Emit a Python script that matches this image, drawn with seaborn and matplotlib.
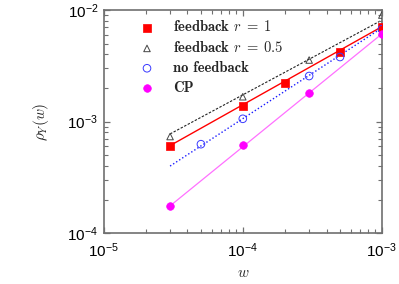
import numpy as np
import pandas as pd
import matplotlib
matplotlib.use("Agg")
import matplotlib.pyplot as plt
import seaborn as sns

# ---- data ----
fb1_w = [3e-5, 1e-4, 2e-4, 5e-4, 1e-3]
fb1_rho = [6.1e-4, 1.38e-3, 2.23e-3, 4.23e-3, 7.08e-3]

fb05_w = [3e-5, 1e-4, 3e-4, 1e-3]
fb05_rho = [7.35e-4, 1.67e-3, 3.56e-3, 9.0e-3]

nofb_w = [5e-5, 1e-4, 3e-4, 5e-4, 1e-3]
nofb_rho = [6.28e-4, 1.06e-3, 2.56e-3, 3.79e-3, 6.72e-3]

cp_w = [3e-5, 1e-4, 3e-4, 1e-3]
cp_rho = [1.76e-4, 6.15e-4, 1.82e-3, 6.1e-3]

# fitted guide lines (end points)
fit_w = [3e-5, 1e-3]
fit_fb1 = [6.1e-4, 7.08e-3]
fit_fb05 = [7.76e-4, 8.1e-3]
fit_nofb = [4.0e-4, 6.9e-3]
fit_cp = [1.76e-4, 6.1e-3]

labels = [r"feedback $r\;=\;1$", r"feedback $r\;=\;0.5$", "no feedback", "CP"]

frame_col = "#707070"

sns.set_theme(style="white")
plt.rcParams.update({
    "mathtext.fontset": "cm",
    "font.family": ["Liberation Sans", "DejaVu Sans"],
    "axes.axisbelow": False,
    "xtick.direction": "in", "ytick.direction": "in",
    "xtick.top": True, "xtick.bottom": True,
    "ytick.left": True, "ytick.right": True,
    "xtick.major.size": 4.5, "ytick.major.size": 4.5,
    "xtick.minor.size": 2.6, "ytick.minor.size": 2.6,
    "xtick.major.width": 0.9, "ytick.major.width": 0.9,
    "xtick.minor.width": 0.8, "ytick.minor.width": 0.8,
    "xtick.color": frame_col, "ytick.color": frame_col,
    "xtick.labelcolor": "black", "ytick.labelcolor": "black",
    "xtick.labelsize": 11, "ytick.labelsize": 11,
    "xtick.major.pad": 6, "ytick.major.pad": 4,
})

fig = plt.figure(figsize=(3.99, 2.84), dpi=100)
ax = fig.add_axes([0.26, 0.1785, 0.697, 0.7865])

# guide lines
lines = [
    (fit_fb1, "#ff0000", "-", 1.0),
    (fit_fb05, "#222222", (0, (2.2, 1.4)), 0.8),
    (fit_nofb, "#1a1aff", (0, (1, 1.6)), 1.0),
    (fit_cp, "#ff70ff", "-", 0.9),
]
for ys, c, ls, lw in lines:
    df = pd.DataFrame({"w": fit_w, "rho": ys})
    sns.lineplot(data=df, x="w", y="rho", ax=ax, color=c, linestyle=ls,
                 linewidth=lw, legend=False)

# points
pts = [
    (fb1_w, fb1_rho, dict(marker="s", s=38, color="#ff0000", edgecolor="#ff0000", linewidth=0.5)),
    (fb05_w, fb05_rho, dict(marker="^", s=22, facecolor="none", edgecolor="#444444", linewidth=0.7)),
    (nofb_w, nofb_rho, dict(marker="o", s=30, facecolor="none", edgecolor="#3a3aff", linewidth=0.7)),
    (cp_w, cp_rho, dict(marker="o", s=30, color="#ff00ff", edgecolor="#ff00ff", linewidth=0.5)),
]
for (xs, ys, kw), lab in zip(pts, labels):
    df = pd.DataFrame({"w": xs, "rho": ys})
    sns.scatterplot(data=df, x="w", y="rho", ax=ax, label=lab, zorder=3, **kw)

ax.set_xscale("log")
ax.set_yscale("log")
ax.set_xlim(1e-5, 1e-3)
ax.set_ylim(1e-4, 1e-2)

ax.tick_params(which="both", direction="in", top=True, right=True,
               bottom=True, left=True, colors=frame_col)
ax.tick_params(which="both", labelcolor="black")

for sp in ax.spines.values():
    sp.set_color(frame_col)
    sp.set_linewidth(1.2)

ax.set_xlabel(r"$w$", fontsize=11, labelpad=4)
ax.set_ylabel(r"$\rho_Y(w)$", fontsize=11, labelpad=12)

leg = ax.legend(loc="upper left", frameon=False, prop={"family": "cmb10", "size": 10.5},
                bbox_to_anchor=(0.09, 1.0), handletextpad=1.2, labelspacing=0.4,
                borderaxespad=0.25, handlelength=1.2)

fig.savefig("out.png", dpi=100)
